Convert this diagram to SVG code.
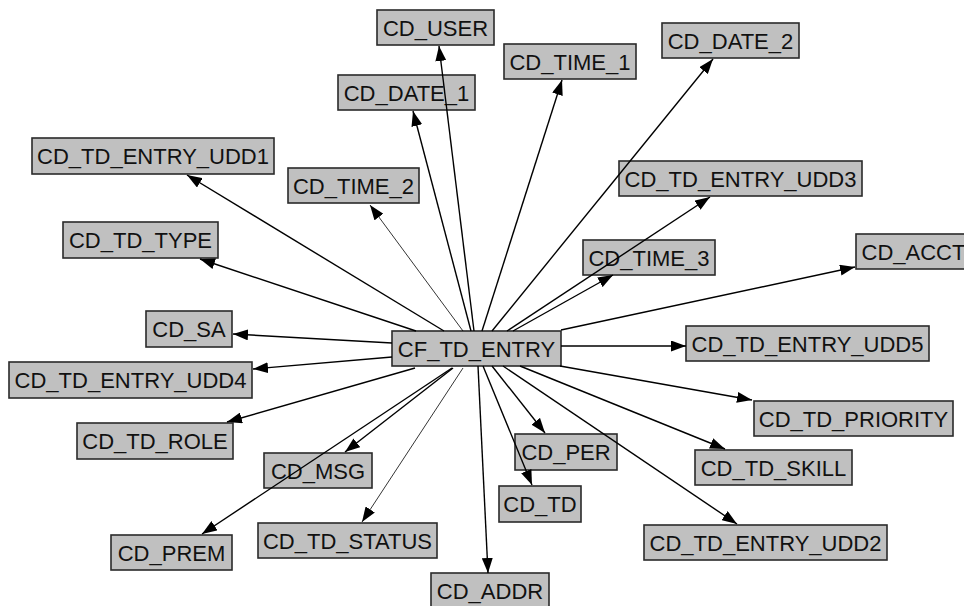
<svg xmlns="http://www.w3.org/2000/svg" width="964" height="606" viewBox="0 0 964 606">
<defs>
<marker id="arr" markerUnits="userSpaceOnUse" markerWidth="15" markerHeight="11" refX="15" refY="5.5" orient="auto">
<path d="M0,0 L15,5.5 L0,11 z" fill="#000"/>
</marker>
<style>
.n rect{fill:#c0c0c0;stroke:#2a2a2a;stroke-width:1.6}
.n text{font-family:"Liberation Sans",Arial,sans-serif;font-size:22px;fill:#111;text-anchor:middle}
#edges line{stroke:#000;stroke-width:1.4;marker-end:url(#arr)}
#edges line.thin{stroke-width:0.8}
</style>
</defs>
<rect width="964" height="606" fill="#fff"/>
<g id="CF_TD_ENTRY" class="n"><rect x="392" y="331" width="169" height="35"/><text x="476.5" y="356.5">CF_TD_ENTRY</text></g>
<g id="CD_USER" class="n"><rect x="377" y="10" width="117" height="35"/><text x="435.5" y="35.5">CD_USER</text></g>
<g id="CD_DATE_1" class="n"><rect x="338" y="75" width="137" height="35"/><text x="406.5" y="100.5">CD_DATE_1</text></g>
<g id="CD_TD_ENTRY_UDD1" class="n"><rect x="32" y="138" width="242" height="36"/><text x="153" y="164">CD_TD_ENTRY_UDD1</text></g>
<g id="CD_TIME_2" class="n"><rect x="288" y="168" width="131" height="35"/><text x="353.5" y="193.5">CD_TIME_2</text></g>
<g id="CD_TD_TYPE" class="n"><rect x="63" y="222" width="155" height="36"/><text x="140.5" y="248">CD_TD_TYPE</text></g>
<g id="CD_TIME_1" class="n"><rect x="504" y="44" width="132" height="35"/><text x="570" y="69.5">CD_TIME_1</text></g>
<g id="CD_DATE_2" class="n"><rect x="662" y="23" width="137" height="35"/><text x="730.5" y="48.5">CD_DATE_2</text></g>
<g id="CD_TD_ENTRY_UDD3" class="n"><rect x="619" y="161" width="243" height="35"/><text x="740.5" y="186.5">CD_TD_ENTRY_UDD3</text></g>
<g id="CD_TIME_3" class="n"><rect x="583" y="240" width="132" height="35"/><text x="649" y="265.5">CD_TIME_3</text></g>
<g id="CD_ACCT" class="n"><rect x="856" y="234" width="115" height="35"/><text x="913.5" y="259.5">CD_ACCT</text></g>
<g id="CD_SA" class="n"><rect x="146" y="311" width="86" height="36"/><text x="189" y="337">CD_SA</text></g>
<g id="CD_TD_ENTRY_UDD4" class="n"><rect x="9" y="362" width="243" height="36"/><text x="130.5" y="388">CD_TD_ENTRY_UDD4</text></g>
<g id="CD_TD_ROLE" class="n"><rect x="77" y="423" width="156" height="36"/><text x="155" y="449">CD_TD_ROLE</text></g>
<g id="CD_MSG" class="n"><rect x="264" y="453" width="108" height="35"/><text x="318" y="478.5">CD_MSG</text></g>
<g id="CD_PREM" class="n"><rect x="111" y="535" width="121" height="35"/><text x="171.5" y="560.5">CD_PREM</text></g>
<g id="CD_TD_STATUS" class="n"><rect x="258" y="523" width="179" height="35"/><text x="347.5" y="548.5">CD_TD_STATUS</text></g>
<g id="CD_ADDR" class="n"><rect x="431" y="573" width="118" height="35"/><text x="490" y="598.5">CD_ADDR</text></g>
<g id="CD_TD" class="n"><rect x="499" y="486" width="82" height="36"/><text x="540" y="512">CD_TD</text></g>
<g id="CD_PER" class="n"><rect x="515" y="434" width="102" height="36"/><text x="566" y="460">CD_PER</text></g>
<g id="CD_TD_ENTRY_UDD2" class="n"><rect x="644" y="525" width="243" height="35"/><text x="765.5" y="550.5">CD_TD_ENTRY_UDD2</text></g>
<g id="CD_TD_SKILL" class="n"><rect x="695" y="450" width="157" height="35"/><text x="773.5" y="475.5">CD_TD_SKILL</text></g>
<g id="CD_TD_PRIORITY" class="n"><rect x="754" y="401" width="199" height="35"/><text x="853.5" y="426.5">CD_TD_PRIORITY</text></g>
<g id="CD_TD_ENTRY_UDD5" class="n"><rect x="686" y="326" width="243" height="35"/><text x="807.5" y="351.5">CD_TD_ENTRY_UDD5</text></g>
<g id="edges">
<line x1="474" y1="331" x2="439" y2="46"/>
<line x1="471" y1="331" x2="413" y2="111"/>
<line x1="444" y1="331" x2="187" y2="175"/>
<line class="thin" x1="463" y1="331" x2="370" y2="205"/>
<line x1="416" y1="331" x2="200" y2="259"/>
<line x1="392" y1="343" x2="233" y2="334"/>
<line x1="392" y1="357" x2="253" y2="369"/>
<line x1="415" y1="368" x2="227" y2="422"/>
<line x1="453" y1="368" x2="345" y2="452"/>
<line x1="452" y1="368" x2="202" y2="534"/>
<line class="thin" x1="463" y1="368" x2="362" y2="522"/>
<line x1="478" y1="366" x2="488" y2="573"/>
<line x1="483" y1="366" x2="532" y2="485"/>
<line x1="492" y1="366" x2="545" y2="433"/>
<line x1="503" y1="366" x2="737" y2="524"/>
<line x1="520" y1="366" x2="725" y2="449"/>
<line x1="560" y1="366" x2="752" y2="400"/>
<line x1="561" y1="346" x2="686" y2="346"/>
<line x1="561" y1="330" x2="855" y2="267"/>
<line x1="513" y1="331" x2="613" y2="275"/>
<line x1="507" y1="331" x2="710" y2="197"/>
<line x1="492" y1="331" x2="713" y2="59"/>
<line x1="482" y1="331" x2="562" y2="80"/>
</g>
</svg>
